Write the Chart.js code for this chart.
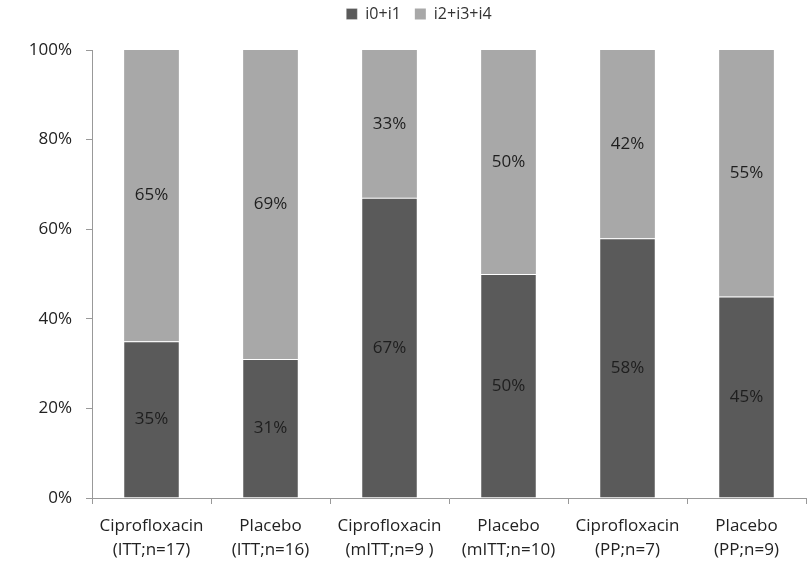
<!DOCTYPE html>
<html>
<head>
<meta charset="utf-8">
<script src="https://cdn.jsdelivr.net/npm/chart.js@4"></script>
<style>
  html, body { margin: 0; padding: 0; background: #fff; }
  #wrap { width: 811px; height: 561px; }
</style>
</head>
<body>
<div id="wrap"><canvas id="chart" width="811" height="561"></canvas></div>
<script>
const categories = [
    ['Ciprofloxacin', '(ITT;n=17)'],
    ['Placebo', '(ITT;n=16)'],
    ['Ciprofloxacin', '(mITT;n=9 )'],
    ['Placebo', '(mITT;n=10)'],
    ['Ciprofloxacin', '(PP;n=7)'],
    ['Placebo', '(PP;n=9)']
];
const lowGrades = [35, 31, 67, 50, 58, 45];
const highGrades = [65, 69, 33, 50, 42, 55];
const yTicks = [0, 20, 40, 60, 80, 100];

const font = "'Open Sans', 'DejaVu Sans', sans-serif";

// draw the percent values in the middle of each segment
const segmentLabels = {
    id: 'segmentLabels',
    afterDatasetsDraw(chart) {
        const ctx = chart.ctx;
        ctx.save();
        ctx.font = '17px ' + font;
        ctx.fillStyle = '#1e1e1e';
        ctx.textAlign = 'center';
        ctx.textBaseline = 'middle';
        chart.data.datasets.forEach((ds, i) => {
            chart.getDatasetMeta(i).data.forEach((bar, j) => {
                ctx.fillText(ds.data[j] + '%', bar.x, (bar.y + bar.base) / 2);
            });
        });
        ctx.restore();
    }
};

// fixed legend height so the plot starts where the reference does,
// and nudge the legend a bit right/up like the original
const legendTweak = {
    id: 'legendTweak',
    beforeInit(chart) {
        const legend = chart.legend;
        const fit = legend.fit;
        legend.fit = function () {
            fit.call(this);
            this.height = 50;
        };
        const draw = legend.draw;
        legend.draw = function () {
            chart.ctx.save();
            chart.ctx.translate(16, -8);
            draw.call(this);
            chart.ctx.restore();
        };
    }
};

new Chart(document.getElementById('chart'), {
    type: 'bar',
    data: {
        labels: categories,
        datasets: [
            { label: 'i0+i1', data: lowGrades, backgroundColor: '#5a5a5a', borderColor: '#ffffff', borderWidth: { top: 1 }, borderSkipped: false },
            { label: 'i2+i3+i4', data: highGrades, backgroundColor: '#a8a8a8', borderWidth: 0 }
        ]
    },
    options: {
        responsive: false,
        animation: false,
        events: [],
        layout: { padding: { left: 0, right: 5, top: 0, bottom: 0 } },
        datasets: { bar: { barPercentage: 0.92, categoryPercentage: 0.5 } },
        plugins: {
            legend: {
                position: 'top',
                labels: {
                    boxWidth: 11,
                    boxHeight: 11,
                    padding: 14,
                    color: '#333',
                    font: { family: font, size: 16 }
                }
            },
            tooltip: { enabled: false }
        },
        scales: {
            x: {
                stacked: true,
                afterFit: s => { s.height = 63; },
                grid: { drawOnChartArea: false, tickLength: 6, color: '#999', offset: true },
                border: { color: '#999' },
                ticks: { color: '#222', font: { family: font, size: 17, lineHeight: 1.4 }, padding: 10, maxRotation: 0 }
            },
            y: {
                stacked: true,
                min: 0,
                max: 100,
                afterFit: s => { s.width = 92; },
                afterBuildTicks: s => { s.ticks = yTicks.map(v => ({ value: v })); },
                grid: { drawOnChartArea: false, tickLength: 6, color: '#999' },
                border: { color: '#999' },
                ticks: { color: '#222', font: { family: font, size: 17 }, padding: 14, callback: v => v + '%' }
            }
        }
    },
    plugins: [segmentLabels, legendTweak]
});
</script>
</body>
</html>
